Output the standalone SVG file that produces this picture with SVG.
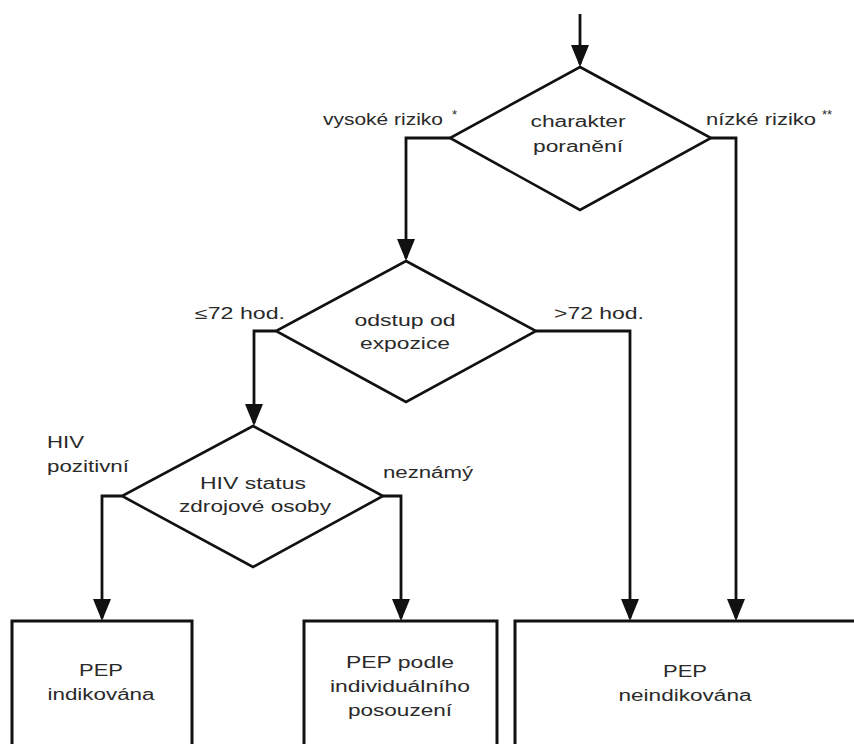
<svg xmlns="http://www.w3.org/2000/svg" width="854" height="744" viewBox="0 0 854 744">
<style>
  .shape { fill: #ffffff; stroke: #111111; stroke-width: 2.6; }
  .box { fill: #ffffff; stroke: #111111; stroke-width: 3; }
  .conn { fill: none; stroke: #111111; stroke-width: 2.8; }
  text { font-family: "Liberation Sans", Arial, sans-serif; font-size: 16px; fill: #2a2a2a; }
  .mid { text-anchor: middle; }
  .sup { font-size: 13px; }
</style>
<defs>
  <marker id="arrow" viewBox="0 0 22 18" refX="19" refY="9" markerWidth="22" markerHeight="18" markerUnits="userSpaceOnUse" orient="auto">
    <path d="M0,0 L22,9 L0,18 z" fill="#111111"/>
  </marker>
</defs>
<rect width="854" height="744" fill="#ffffff"/>

<g id="connectors">
  <path class="conn" d="M580,14 V64" marker-end="url(#arrow)"/>
  <path class="conn" d="M450,138 H406 V258" marker-end="url(#arrow)"/>
  <path class="conn" d="M711,138 H736 V618" marker-end="url(#arrow)"/>
  <path class="conn" d="M276,331 H254 V423" marker-end="url(#arrow)"/>
  <path class="conn" d="M536,331 H630 V618" marker-end="url(#arrow)"/>
  <path class="conn" d="M122,496 H102 V618" marker-end="url(#arrow)"/>
  <path class="conn" d="M383,496 H401 V618" marker-end="url(#arrow)"/>
</g>

<g id="decision-charakter">
  <polygon class="shape" points="580,67 711,138 580,210 450,138"/>
  <text class="mid" x="578" y="127" textLength="95" lengthAdjust="spacingAndGlyphs">charakter</text>
  <text class="mid" x="578" y="152" textLength="90" lengthAdjust="spacingAndGlyphs">poranění</text>
</g>
<g id="label-vysoke">
  <text x="323" y="125" textLength="120" lengthAdjust="spacingAndGlyphs">vysoké riziko</text>
  <text class="sup" x="452" y="119">*</text>
</g>
<g id="label-nizke">
  <text x="706" y="125" textLength="110" lengthAdjust="spacingAndGlyphs">nízké riziko</text>
  <text class="sup" x="822" y="119">**</text>
</g>

<g id="decision-odstup">
  <polygon class="shape" points="406,261 536,331 406,402 276,331"/>
  <text class="mid" x="405" y="326" textLength="101" lengthAdjust="spacingAndGlyphs">odstup od</text>
  <text class="mid" x="405" y="349" textLength="90" lengthAdjust="spacingAndGlyphs">expozice</text>
</g>
<g id="label-le72">
  <text x="195" y="319" textLength="90" lengthAdjust="spacingAndGlyphs">≤72 hod.</text>
</g>
<g id="label-gt72">
  <text x="554" y="319" textLength="90" lengthAdjust="spacingAndGlyphs">&gt;72 hod.</text>
</g>

<g id="decision-hiv">
  <polygon class="shape" points="253,426 383,496 253,567 122,496"/>
  <text class="mid" x="253" y="489" textLength="106" lengthAdjust="spacingAndGlyphs">HIV status</text>
  <text class="mid" x="255" y="512" textLength="152" lengthAdjust="spacingAndGlyphs">zdrojové osoby</text>
</g>
<g id="label-pozitivni">
  <text x="47" y="448" textLength="37" lengthAdjust="spacingAndGlyphs">HIV</text>
  <text x="47" y="472" textLength="82" lengthAdjust="spacingAndGlyphs">pozitivní</text>
</g>
<g id="label-neznamy">
  <text x="383" y="478" textLength="90" lengthAdjust="spacingAndGlyphs">neznámý</text>
</g>

<g id="box-indikovana">
  <rect class="box" x="12" y="621" width="180" height="140"/>
  <text class="mid" x="101" y="676" textLength="44" lengthAdjust="spacingAndGlyphs">PEP</text>
  <text class="mid" x="101" y="700" textLength="107" lengthAdjust="spacingAndGlyphs">indikována</text>
</g>
<g id="box-individualni">
  <rect class="box" x="304" y="621" width="193" height="140"/>
  <text class="mid" x="400" y="668" textLength="108" lengthAdjust="spacingAndGlyphs">PEP podle</text>
  <text class="mid" x="400" y="692" textLength="140" lengthAdjust="spacingAndGlyphs">individuálního</text>
  <text class="mid" x="400" y="716" textLength="104" lengthAdjust="spacingAndGlyphs">posouzení</text>
</g>
<g id="box-neindikovana">
  <rect class="box" x="515" y="621" width="345" height="140"/>
  <text class="mid" x="685" y="677" textLength="44" lengthAdjust="spacingAndGlyphs">PEP</text>
  <text class="mid" x="685" y="701" textLength="133" lengthAdjust="spacingAndGlyphs">neindikována</text>
</g>
</svg>
